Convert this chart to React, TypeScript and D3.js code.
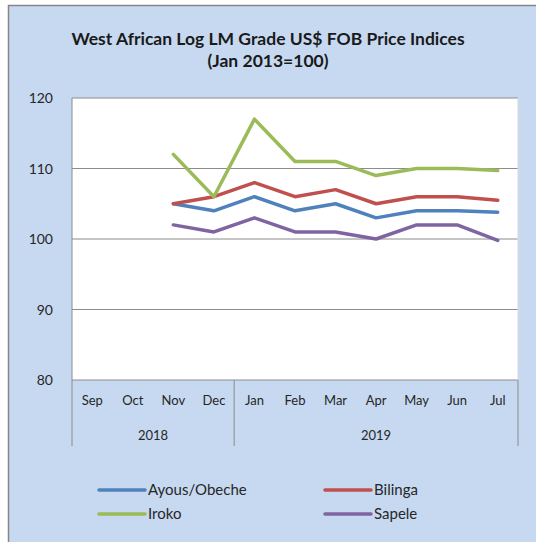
import React from "react";
import * as d3 from "d3";

const months = ["Sep", "Oct", "Nov", "Dec", "Jan", "Feb", "Mar", "Apr", "May", "Jun", "Jul"];
const yearGroups = [
  { label: "2018", start: 0, end: 3 },
  { label: "2019", start: 4, end: 10 },
];
const yTicks = [80, 90, 100, 110, 120];

const ayous: (number | null)[] = [null, null, 105, 104, 106, 104, 105, 103, 104, 104, 103.8];
const bilinga: (number | null)[] = [null, null, 105, 106, 108, 106, 107, 105, 106, 106, 105.5];
const iroko: (number | null)[] = [null, null, 112, 106, 117, 111, 111, 109, 110, 110, 109.7];
const sapele: (number | null)[] = [null, null, 102, 101, 103, 101, 101, 100, 102, 102, 99.8];

const seriesNames = ["Ayous/Obeche", "Bilinga", "Iroko", "Sapele"];
const seriesColors = ["#4f81bd", "#c0504d", "#9bbb59", "#8064a2"];
const seriesValues = [ayous, bilinga, iroko, sapele];

const FONT = "Lato, 'Open Sans', sans-serif";

export default function App() {
  const W = 536, H = 542;
  const left = 72, right = 518, top = 98, bottom = 380;
  const x = d3.scaleBand<string>().domain(months).range([left, right]);
  const y = d3.scaleLinear().domain([80, 120]).range([bottom, top]);
  const cx = (i: number) => (x(months[i]) as number) + x.bandwidth() / 2;

  const line = d3
    .line<number | null>()
    .defined((d) => d !== null)
    .x((_, i) => cx(i))
    .y((d) => y(d as number));

  const legendPos = [
    { x: 99, y: 490 },
    { x: 325, y: 490 },
    { x: 99, y: 514 },
    { x: 325, y: 514 },
  ];

  return (
    <div style={{ position: "fixed", left: 0, top: 0, width: W, height: H }}>
      <svg width={W} height={H} style={{ display: "block" }}>
        <rect x={0} y={0} width={W} height={H} fill="#ffffff" />
        <rect x={8.5} y={5.5} width={W} height={H} fill="#c6d9f1" stroke="#868686" strokeWidth={1.5} />
        <text x={268} y={45} textAnchor="middle" fontFamily={FONT} fontWeight="bold" fontSize={17.5} fill="#1a1a1a">
          West African Log LM Grade US$ FOB Price Indices
        </text>
        <text x={268} y={67} textAnchor="middle" fontFamily={FONT} fontWeight="bold" fontSize={17.5} fill="#1a1a1a">
          (Jan 2013=100)
        </text>

        <rect x={left} y={top} width={right - left} height={bottom - top} fill="#ffffff" />
        {yTicks.map((t) => (
          <line key={t} x1={left} x2={right} y1={y(t)} y2={y(t)} stroke="#8c8c8c" strokeWidth={1} />
        ))}
        <line x1={right} x2={right} y1={top} y2={bottom} stroke="#d9d9d9" strokeWidth={1} />
        <line x1={left} x2={left} y1={top} y2={bottom} stroke="#8c8c8c" strokeWidth={1} />
        {yTicks.map((t) => (
          <text key={t} x={53} y={y(t) + 5} textAnchor="end" fontFamily={FONT} fontSize={14} fill="#262626">
            {t}
          </text>
        ))}

        {/* category axis */}
        {[left, (x(months[4]) as number), right].map((xx, i) => (
          <line key={i} x1={xx} x2={xx} y1={bottom} y2={446} stroke="#8c8c8c" strokeWidth={1} />
        ))}
        {months.map((m, i) => (
          <text key={m} x={cx(i)} y={405} textAnchor="middle" fontFamily={FONT} fontSize={13} fill="#262626">
            {m}
          </text>
        ))}
        {yearGroups.map((g) => (
          <text
            key={g.label}
            x={(cx(g.start) + cx(g.end)) / 2}
            y={440}
            textAnchor="middle"
            fontFamily={FONT}
            fontSize={13}
            fill="#262626"
          >
            {g.label}
          </text>
        ))}

        {seriesValues.map((vals, k) => (
          <path
            key={seriesNames[k]}
            d={line(vals) || ""}
            fill="none"
            stroke={seriesColors[k]}
            strokeWidth={3.5}
            strokeLinejoin="round"
            strokeLinecap="round"
          />
        ))}

        {seriesNames.map((n, k) => (
          <g key={n}>
            <line
              x1={legendPos[k].x}
              x2={legendPos[k].x + 46}
              y1={legendPos[k].y}
              y2={legendPos[k].y}
              stroke={seriesColors[k]}
              strokeWidth={3.5}
              strokeLinecap="round"
            />
            <text
              x={legendPos[k].x + 49}
              y={legendPos[k].y + 5}
              fontFamily={FONT}
              fontSize={15}
              fill="#262626"
            >
              {n}
            </text>
          </g>
        ))}
      </svg>
    </div>
  );
}
